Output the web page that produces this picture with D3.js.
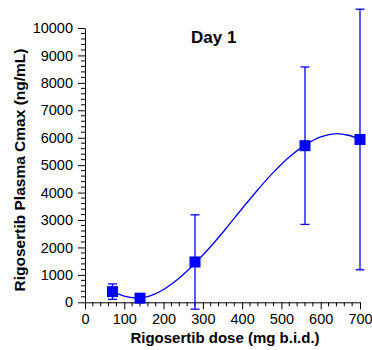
<!DOCTYPE html>
<html>
<head>
<meta charset="utf-8">
<script src="https://cdn.jsdelivr.net/npm/d3@7"></script>
<style>
  html, body { margin: 0; padding: 0; background: #fff; }
  svg { display: block; font-family: "Liberation Sans", Arial, Helvetica, sans-serif; }
</style>
</head>
<body>
<svg id="chart" width="372" height="350"></svg>
<script>
// ---- data ----
const doses = [70, 140, 280, 560, 700];
const cmaxMean = [390, 150, 1470, 5710, 5935];
const cmaxSD = [280, 0, 1720, 2870, 4750];
// fitted curve
const fitDose = [70, 100, 130, 160, 200, 240, 282, 320, 360, 400, 440, 480, 520, 560, 600, 640, 670, 700];
const fitCmax = [400, 225, 157, 210, 468, 885, 1455, 2035, 2710, 3420, 4105, 4745, 5300, 5730, 6030, 6147, 6090, 5942];
const xTicks = [0, 100, 200, 300, 400, 500, 600, 700];
const yTicks = [0, 1000, 2000, 3000, 4000, 5000, 6000, 7000, 8000, 9000, 10000];
const titleText = "Day 1";
const xTitle = "Rigosertib dose (mg b.i.d.)";
const yTitle = "Rigosertib Plasma Cmax (ng/mL)";

const svg = d3.select("#chart");
const x = d3.scaleLinear().domain([0, 700]).range([85, 360]);
const y = d3.scaleLinear().domain([0, 10000]).range([302.3, 28]);
const blue = "#0000ff";

// minor ticks
const xMinor = d3.range(0, 701, 20).filter(v => v % 100 !== 0);
const yMinor = d3.range(0, 10001, 200).filter(v => v % 1000 !== 0);

const gx = svg.append("g").attr("transform", `translate(0,${y(0)})`);
gx.call(d3.axisBottom(x).tickValues(xTicks).tickSize(7).tickPadding(4).tickSizeOuter(0));
gx.append("g").selectAll("line").data(xMinor).join("line")
  .attr("x1", d => x(d)).attr("x2", d => x(d)).attr("y1", 0).attr("y2", 4)
  .attr("stroke", "#000");

const gy = svg.append("g").attr("transform", `translate(${x(0)},0)`);
gy.call(d3.axisLeft(y).tickValues(yTicks).tickFormat(d3.format("d")).tickSize(7).tickPadding(5).tickSizeOuter(0));
gy.append("g").selectAll("line").data(yMinor).join("line")
  .attr("y1", d => y(d)).attr("y2", d => y(d)).attr("x1", 0).attr("x2", -4)
  .attr("stroke", "#000");

[gx, gy].forEach(g => {
  g.selectAll("text").attr("font-size", "14.5px").attr("fill", "#000")
    .attr("font-family", '"Liberation Sans", Arial, sans-serif');
  g.selectAll("line, path").attr("stroke", "#000").attr("stroke-width", 1);
});

// fitted curve
const line = d3.line().x((d, i) => x(fitDose[i])).y((d, i) => y(fitCmax[i]))
  .curve(d3.curveCatmullRom.alpha(0.5));
svg.append("path").datum(fitDose).attr("d", line)
  .attr("fill", "none").attr("stroke", blue).attr("stroke-width", 1.3);

// error bars
const eb = svg.append("g").attr("stroke", blue).attr("stroke-width", 1.3);
doses.forEach((d, i) => {
  if (cmaxSD[i] <= 0) return;
  const lo = cmaxMean[i] - cmaxSD[i], hi = cmaxMean[i] + cmaxSD[i];
  eb.append("line").attr("x1", x(d)).attr("x2", x(d)).attr("y1", y(lo)).attr("y2", y(hi));
  eb.append("line").attr("x1", x(d) - 4.5).attr("x2", x(d) + 4.5).attr("y1", y(lo)).attr("y2", y(lo));
  eb.append("line").attr("x1", x(d) - 4.5).attr("x2", x(d) + 4.5).attr("y1", y(hi)).attr("y2", y(hi));
});

// squares
svg.append("g").selectAll("rect").data(doses).join("rect")
  .attr("x", d => x(d) - 5.5).attr("y", (d, i) => y(cmaxMean[i]) - 5.5)
  .attr("width", 11).attr("height", 11).attr("fill", blue);

// titles
svg.append("text").attr("x", 213.7).attr("y", 42.7).attr("text-anchor", "middle")
  .attr("font-size", "17px").attr("font-weight", "bold").text(titleText);
svg.append("text").attr("x", 225).attr("y", 342.5).attr("text-anchor", "middle")
  .attr("font-size", "15px").attr("font-weight", "bold").text(xTitle);
svg.append("text").attr("transform", "translate(25,170) rotate(-90)").attr("text-anchor", "middle")
  .attr("font-size", "15.5px").attr("font-weight", "bold").text(yTitle);
</script>
</body>
</html>
